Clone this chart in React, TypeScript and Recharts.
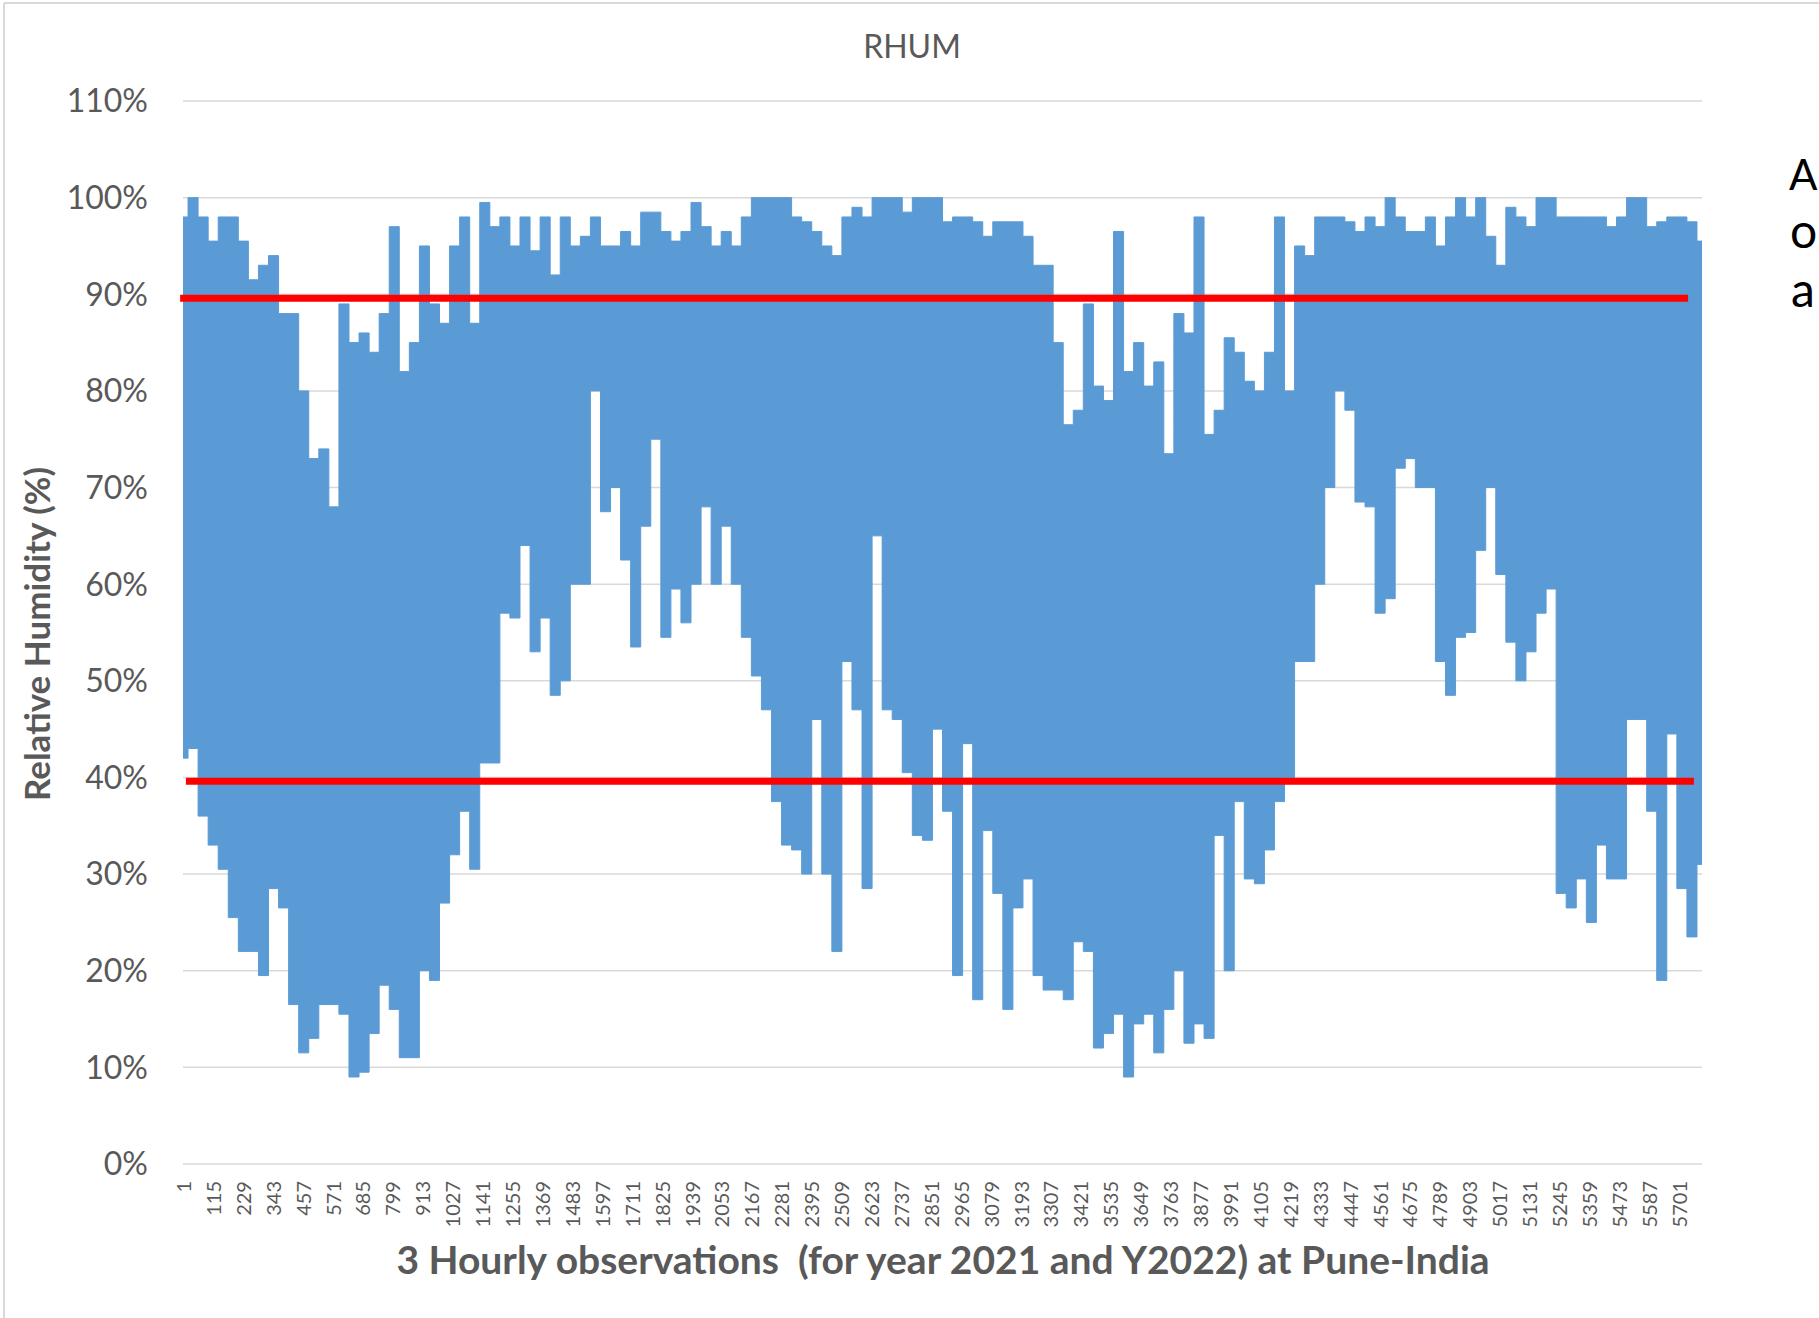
import { ComposedChart, Area, XAxis, YAxis, CartesianGrid, ReferenceLine } from 'recharts';

const highs = [
  98, 100, 98, 95.5, 98, 98, 95.5, 91.5, 93, 94,
  88, 88, 80, 73, 74, 68, 89, 85, 86, 84,
  88, 97, 82, 85, 95, 89, 87, 95, 98, 87,
  99.5, 97, 98, 95, 98, 94.5, 98, 92, 98, 95,
  96, 98, 95, 95, 96.5, 95, 98.5, 98.5, 96.5, 95.5,
  96.5, 99.5, 97, 95, 96.5, 95, 98, 100, 100, 100,
  100, 98, 97.5, 96.5, 95, 94, 98, 99, 98, 100,
  100, 100, 98.5, 100, 100, 100, 97.5, 98, 98, 97.5,
  96, 97.5, 97.5, 97.5, 96, 93, 93, 85, 76.5, 78,
  89, 80.5, 79, 96.5, 82, 85, 80.5, 83, 73.5, 88,
  86, 98, 75.5, 78, 85.5, 84, 81, 80, 84, 98,
  80, 95, 94, 98, 98, 98, 97.5, 96.5, 98, 97,
  100, 98, 96.5, 96.5, 98, 95, 98, 100, 98, 100,
  96, 93, 99, 98, 97, 100, 100, 98, 98, 98,
  98, 98, 97, 98, 100, 100, 97, 97.5, 98, 98,
  97.5, 95.5,
];

const lows = [
  42, 43, 36, 33, 30.5, 25.5, 22, 22, 19.5, 28.5,
  26.5, 16.5, 11.5, 13, 16.5, 16.5, 15.5, 9, 9.5, 13.5,
  18.5, 16, 11, 11, 20, 19, 27, 32, 36.5, 30.5,
  41.5, 41.5, 57, 56.5, 64, 53, 56.5, 48.5, 50, 60,
  60, 80, 67.5, 70, 62.5, 53.5, 66, 75, 54.5, 59.5,
  56, 60, 68, 60, 66, 60, 54.5, 50.5, 47, 37.5,
  33, 32.5, 30, 46, 30, 22, 52, 47, 28.5, 65,
  47, 46, 40.5, 34, 33.5, 45, 36.5, 19.5, 43.5, 17,
  34.5, 28, 16, 26.5, 29.5, 19.5, 18, 18, 17, 23,
  22, 12, 13.5, 15.5, 9, 14.5, 15.5, 11.5, 16, 20,
  12.5, 14.5, 13, 34, 20, 37.5, 29.5, 29, 32.5, 37.5,
  40, 52, 52, 60, 70, 80, 78, 68.5, 68, 57,
  58.5, 72, 73, 70, 70, 52, 48.5, 54.5, 55, 63.5,
  70, 61, 54, 50, 53, 57, 59.5, 28, 26.5, 29.5,
  25, 33, 29.5, 29.5, 46, 46, 36.5, 19, 44.5, 28.5,
  23.5, 31,
];

const xTicks = [
  1, 115, 229, 343, 457, 571, 685, 799, 913, 1027, 1141, 1255, 1369, 1483, 1597, 1711,
  1825, 1939, 2053, 2167, 2281, 2395, 2509, 2623, 2737, 2851, 2965, 3079, 3193, 3307,
  3421, 3535, 3649, 3763, 3877, 3991, 4105, 4219, 4333, 4447, 4561, 4675, 4789, 4903,
  5017, 5131, 5245, 5359, 5473, 5587, 5701,
];
const yTicks = [0, 10, 20, 30, 40, 50, 60, 70, 80, 90, 100, 110];

const FIRST_OBS = 1;
const LAST_OBS = 5790;

// hand-drawn red limit bars
const upperLimit = 89.6;
const upperLimitSpan = [-10, 5737];
const lowerLimit = 39.6;
const lowerLimitSpan = [12, 5759];

const data = highs.map((hi, k) => ({
  obs: FIRST_OBS + (k * (LAST_OBS - FIRST_OBS)) / (highs.length - 1),
  band: [lows[k], hi],
}));

const FONT = 'Lato, "Open Sans", sans-serif';
const GREY = '#595959';

function RotatedTick({ x, y, payload }: any) {
  return (
    <text
      x={x}
      y={y}
      transform={`rotate(-90 ${x} ${y})`}
      textAnchor="end"
      dominantBaseline="central"
      fontSize={20}
      fontFamily={FONT}
      fill={GREY}
    >
      {payload.value}
    </text>
  );
}

export default function App() {
  return (
    <div style={styles.page}>
      <ComposedChart
        width={1819}
        height={1318}
        data={data}
        margin={{ top: 101, right: 117, bottom: 94, left: 83 }}
      >
        <CartesianGrid vertical={false} stroke="#d9d9d9" strokeWidth={1.5} />
        <XAxis
          dataKey="obs"
          type="number"
          domain={[FIRST_OBS, LAST_OBS]}
          ticks={xTicks}
          interval={0}
          height={60}
          axisLine={false}
          tickLine={false}
          tickSize={0}
          tickMargin={17}
          tick={<RotatedTick />}
        />
        <YAxis
          type="number"
          domain={[0, 110]}
          ticks={yTicks}
          width={100}
          axisLine={false}
          tickLine={false}
          tickSize={0}
          tickMargin={35}
          tickFormatter={(v: number) => `${v}%`}
          tick={{ fontSize: 32, fontFamily: FONT, fill: GREY }}
        />
        <Area
          dataKey="band"
          type="step"
          stroke="#5b9bd5"
          strokeWidth={1}
          fill="#5b9bd5"
          fillOpacity={1}
          isAnimationActive={false}
        />
        <ReferenceLine
          ifOverflow="visible"
          stroke="#ff0000"
          strokeWidth={7}
          segment={[{ x: upperLimitSpan[0], y: upperLimit }, { x: upperLimitSpan[1], y: upperLimit }]}
        />
        <ReferenceLine
          ifOverflow="visible"
          stroke="#ff0000"
          strokeWidth={7}
          segment={[{ x: lowerLimitSpan[0], y: lowerLimit }, { x: lowerLimitSpan[1], y: lowerLimit }]}
        />
      </ComposedChart>

      <svg width={1819} height={1318} style={styles.overlay}>
        <line x1={4} y1={3} x2={1819} y2={3} stroke="#d9d9d9" strokeWidth={2} />
        <line x1={4} y1={3} x2={4} y2={1318} stroke="#d9d9d9" strokeWidth={2} />
        <text x={912} y={58} textAnchor="middle" fontSize={32} fontFamily={FONT} fill={GREY}>
          RHUM
        </text>
        <text
          transform="translate(50 634) rotate(-90)"
          textAnchor="middle"
          fontSize={35}
          fontWeight={700}
          fontFamily={FONT}
          fill={GREY}
        >
          Relative Humidity (%)
        </text>
        <text x={943} y={1274} textAnchor="middle" fontSize={39} fontWeight={700} fontFamily={FONT} fill={GREY} style={{ whiteSpace: 'pre' }}>
          3 Hourly observations  (for year 2021 and Y2022) at Pune-India
        </text>
        <text x={1789} y={190} fontSize={42} fontFamily={FONT} fill="#000">A</text>
        <text x={1790} y={248} fontSize={48} fontFamily={FONT} fill="#000">o</text>
        <text x={1791} y={307} fontSize={48} fontFamily={FONT} fill="#000">a</text>
      </svg>
    </div>
  );
}

const styles: Record<string, React.CSSProperties> = {
  page: {
    position: 'absolute',
    left: 0,
    top: 0,
    width: 1819,
    height: 1318,
    overflow: 'hidden',
    background: '#fff',
  },
  overlay: {
    position: 'absolute',
    left: 0,
    top: 0,
    pointerEvents: 'none',
  },
};
